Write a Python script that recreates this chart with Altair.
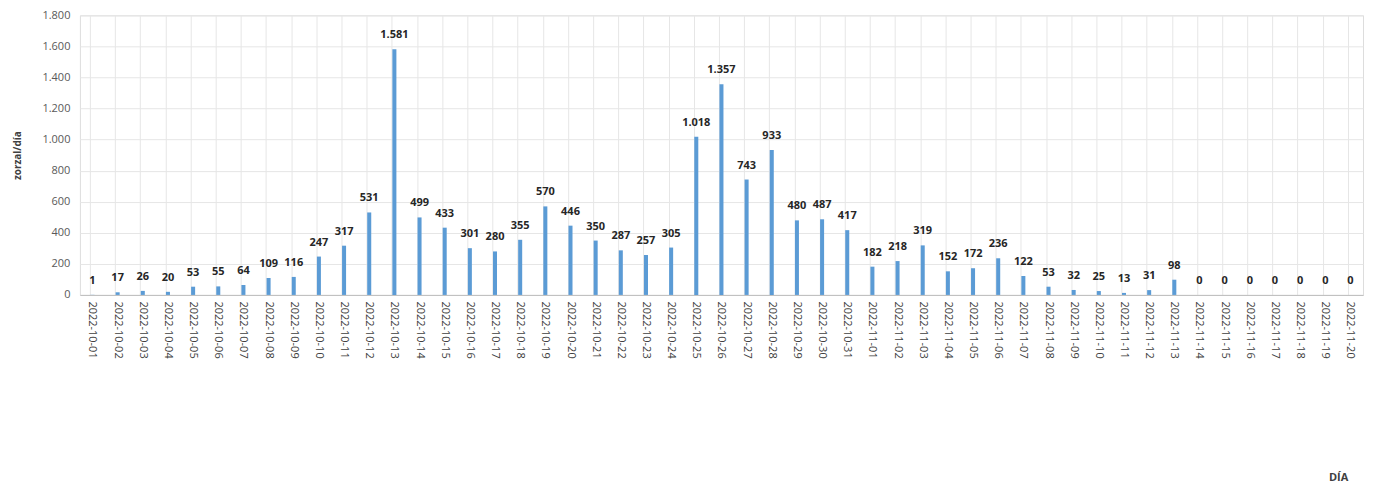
import altair as alt
import pandas as pd

dates = pd.date_range("2022-10-01", "2022-11-20").strftime("%Y-%m-%d").tolist()
values = [1, 17, 26, 20, 53, 55, 64, 109, 116, 247,
          317, 531, 1581, 499, 433, 301, 280, 355, 570, 446,
          350, 287, 257, 305, 1018, 1357, 743, 933, 480, 487,
          417,
          182, 218, 319, 152, 172, 236, 122, 53, 32, 25,
          13, 31, 98, 0, 0, 0, 0, 0, 0, 0]
y_ticks = [0, 200, 400, 600, 800, 1000, 1200, 1400, 1600, 1800]

df = pd.DataFrame({"dia": dates, "v": values})

FONT = "Open Sans"

x = alt.X("dia:N", sort=None,
          axis=alt.Axis(title="DÍA", labelAngle=90, labelFontSize=11, labelColor="#404040",
                        labelFont=FONT, labelPadding=6, ticks=False, bandPosition=0,
                        labelOverlap=False,
                        grid=True, gridColor="#e6e6e6", domainColor="#bfbfbf",
                        titleX=1260, titleY=177, titleBaseline="top",
                        titleFont=FONT, titleFontSize=11,
                        titleFontWeight="bold", titleColor="#404040", titleAlign="center"),
          scale=alt.Scale(paddingInner=0.84, paddingOuter=0.42))

y = alt.Y("v:Q",
          scale=alt.Scale(domain=[0, 1800]),
          axis=alt.Axis(title="zorzal/día", values=y_ticks,
                        labelExpr="replace(format(datum.value, ','), ',', '.')",
                        labelOverlap=False,
                        labelFontSize=11, labelColor="#595959", labelFont=FONT,
                        labelPadding=10, ticks=False, domain=False,
                        gridColor="#e6e6e6",
                        titleX=-57, titleY=140, titleFont=FONT, titleFontSize=10,
                        titleFontWeight="bold", titleColor="#404040"))

bars = alt.Chart(df).mark_bar(color="#5b9bd5").encode(x=x, y=y)

labels = alt.Chart(df).transform_calculate(
    lbl="replace(format(datum.v, ','), ',', '.')"
).mark_text(dy=-14, fontWeight="bold", fontSize=11, font=FONT, color="#262626").encode(
    x=x, y=y, text="lbl:N")

chart = (bars + labels).properties(
    width=1285, height=280,
    autosize=alt.AutoSizeParams(type="none"),
    padding={"left": 72, "top": 7, "right": 4, "bottom": 195},
).configure_view(stroke="#e6e6e6").configure(background="white")

chart.save("out.html", embed_options={"renderer": "svg", "actions": False})
